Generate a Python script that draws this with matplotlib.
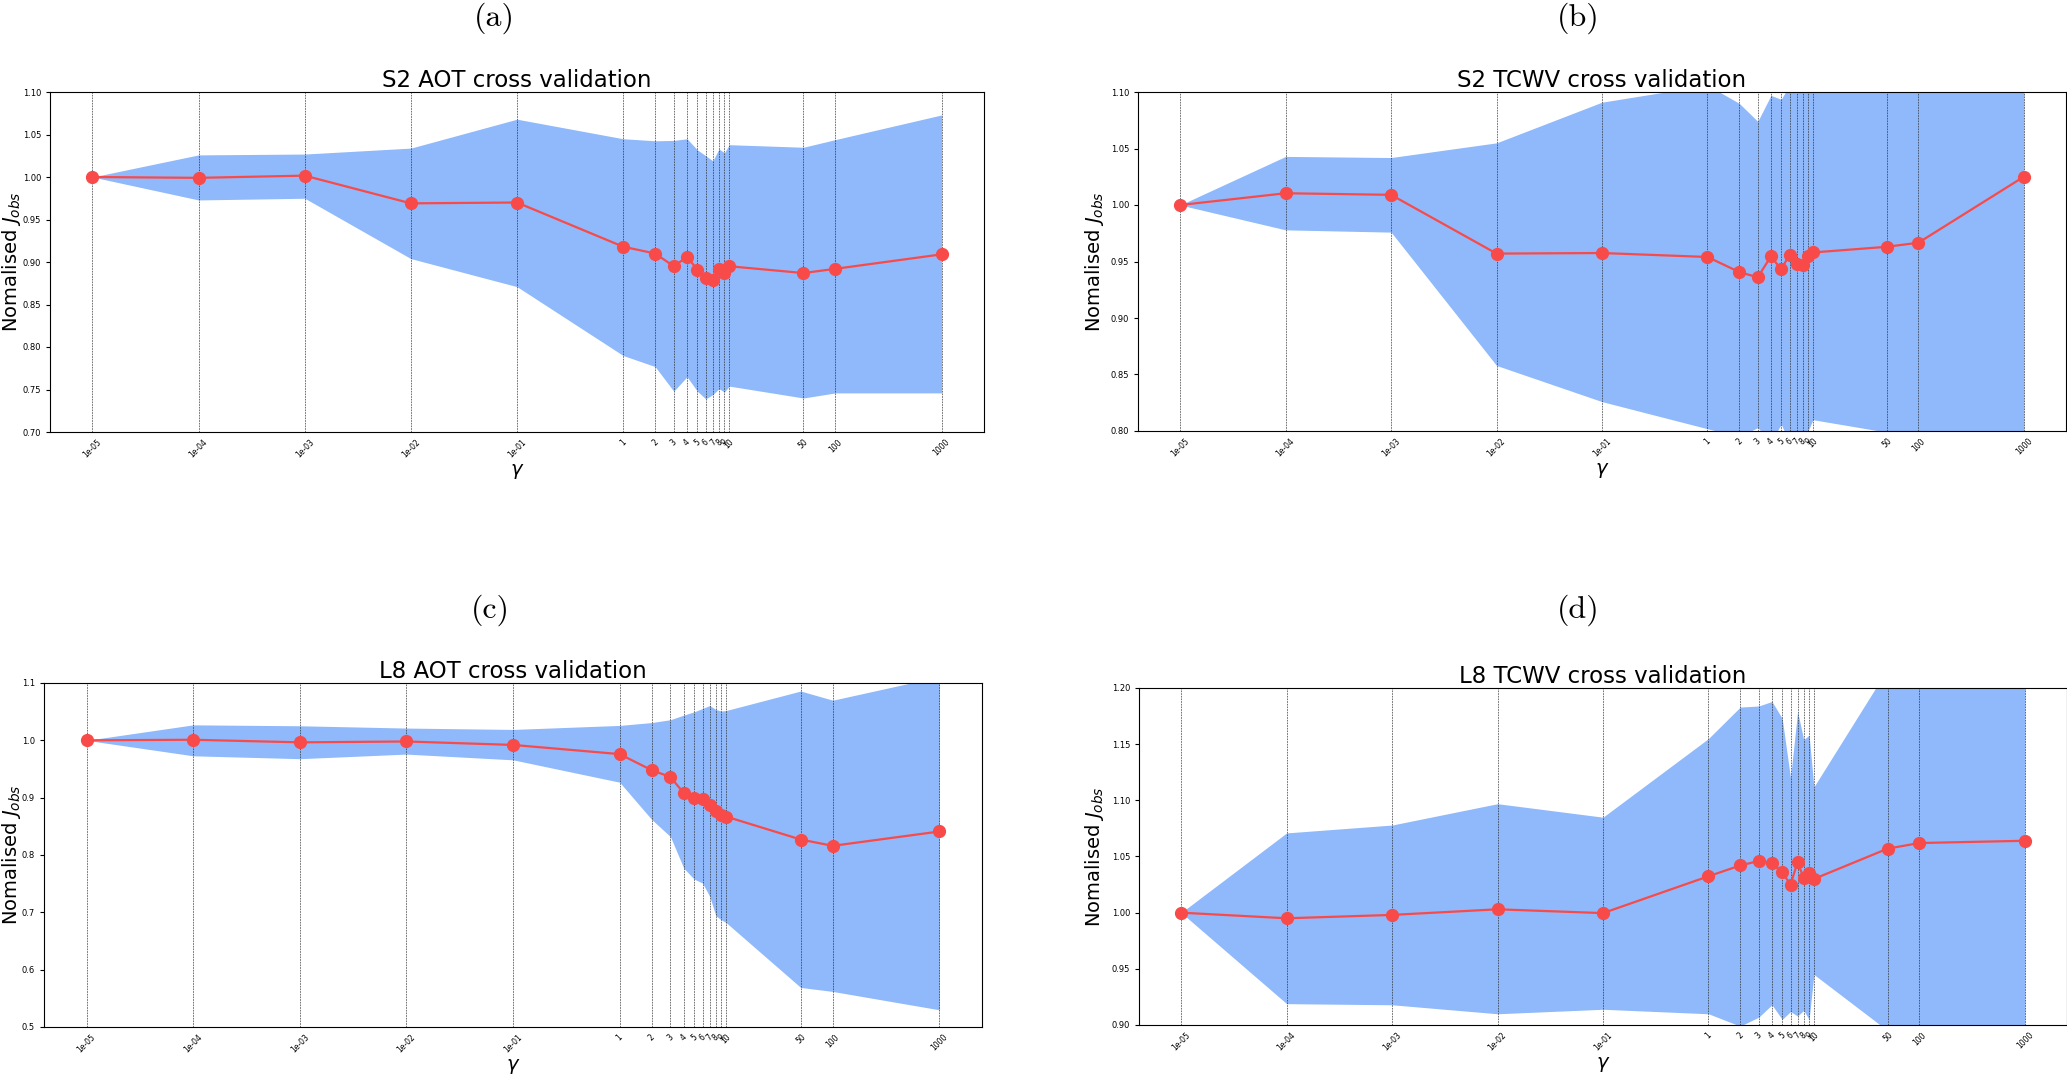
import numpy as np
import matplotlib
matplotlib.use("Agg")
import matplotlib.pyplot as plt

# regularisation weights and their tick labels
gamma = [1e-5, 1e-4, 1e-3, 1e-2, 1e-1, 1, 2, 3, 4, 5, 6, 7, 8, 9, 10, 50, 100, 1000]
gamma_labels = ['1e-05', '1e-04', '1e-03', '1e-02', '1e-01', '1', '2', '3', '4',
                '5', '6', '7', '8', '9', '10', '50', '100', '1000']

# S2 AOT
s2_aot_mean = [1.000, 0.999, 1.0016, 0.969, 0.970, 0.918, 0.910, 0.895, 0.906,
               0.891, 0.881, 0.879, 0.892, 0.887, 0.895, 0.887, 0.892, 0.909]
s2_aot_upper = [1.0, 1.026, 1.027, 1.034, 1.068, 1.045, 1.0426, 1.043, 1.045,
                1.032, 1.025, 1.019, 1.033, 1.0285, 1.038, 1.035, 1.044, 1.073]
s2_aot_lower = [1.0, 0.973, 0.975, 0.904, 0.871, 0.790, 0.777, 0.748, 0.765,
                0.748, 0.739, 0.744, 0.751, 0.747, 0.754, 0.740, 0.746, 0.746]

# S2 TCWV
s2_tcwv_mean = [1.000, 1.0104, 1.009, 0.957, 0.9575, 0.954, 0.9407, 0.936, 0.9546,
                0.943, 0.956, 0.9475, 0.9466, 0.955, 0.958, 0.963, 0.9666, 1.025]
s2_tcwv_upper = [1.0, 1.043, 1.042, 1.055, 1.091, 1.106, 1.090, 1.074, 1.097,
                 1.0935, 1.106, 1.099, 1.12, 1.13, 1.14, 1.18, 1.2, 1.3]
s2_tcwv_lower = [1.0, 0.978, 0.976, 0.858, 0.826, 0.802, 0.795, 0.803, 0.79,
                 0.806, 0.79, 0.795, 0.79, 0.80, 0.81, 0.799, 0.795, 0.78]

# L8 AOT
l8_aot_mean = [1.000, 1.001, 0.9965, 0.998, 0.992, 0.976, 0.948, 0.936, 0.908,
               0.899, 0.898, 0.887, 0.876, 0.869, 0.867, 0.827, 0.816, 0.841]
l8_aot_upper = [1.0, 1.027, 1.0254, 1.0214, 1.019, 1.026, 1.031, 1.036, 1.044,
                1.0497, 1.0555, 1.0607, 1.0538, 1.051, 1.052, 1.086, 1.070, 1.111]
l8_aot_lower = [1.0, 0.973, 0.968, 0.976, 0.966, 0.927, 0.862, 0.832, 0.777,
                0.758, 0.751, 0.728, 0.694, 0.687, 0.682, 0.569, 0.562, 0.530]

# L8 TCWV
l8_tcwv_mean = [1.000, 0.995, 0.998, 1.003, 0.9996, 1.0324, 1.042, 1.046, 1.044,
                1.036, 1.025, 1.045, 1.031, 1.035, 1.030, 1.057, 1.062, 1.064]
l8_tcwv_upper = [1.0, 1.071, 1.078, 1.097, 1.085, 1.155, 1.183, 1.184, 1.188,
                 1.173, 1.12, 1.179, 1.154, 1.158, 1.112, 1.217, 1.25, 1.3]
l8_tcwv_lower = [1.0, 0.919, 0.918, 0.91, 0.914, 0.91, 0.899, 0.907, 0.918,
                 0.905, 0.912, 0.908, 0.913, 0.905, 0.945, 0.895, 0.88, 0.86]

W, H = 2067, 1081
fig = plt.figure(figsize=(W / 100, H / 100), dpi=100)

FILL = '#8fb9fa'
RED = '#f94a4a'


def px_axes(left, top, width, height):
    return fig.add_axes([left / W, 1 - (top + height) / H, width / W, height / H])


def panel(ax, mean, upper, lower, title, ylim, letter, letter_xy, ylabel_x):
    ax.fill_between(gamma, lower, upper, color=FILL, linewidth=0, zorder=1)
    for g in gamma:
        ax.axvline(g, color='#222222', ls=(0, (2, 1.2)), lw=0.6, alpha=0.75, zorder=2)
    ax.plot(gamma, mean, '-o', color=RED, lw=1.6, ms=8.5, zorder=3)
    ax.set_xscale('log')
    ax.set_xticks(gamma)
    ax.set_xticklabels(gamma_labels, rotation=45, fontsize=5.5)
    ax.minorticks_off()
    ax.set_ylim(*ylim)
    ax.tick_params(axis='y', labelsize=6, length=3)
    ax.tick_params(axis='x', length=0, pad=4)
    ax.set_title(title, fontsize=16.5, pad=3)
    ax.set_ylabel('Nomalised $J_{obs}$', fontsize=14)
    # ylabel anchor is its right edge (rotated text, va='bottom')
    bb = ax.get_position()
    ax.yaxis.set_label_coords((ylabel_x / W - bb.x0) / bb.width, 0.5)
    ax.set_xlabel(r'$\gamma$', fontsize=14, labelpad=2)
    fig.text(letter_xy[0] / W, 1 - letter_xy[1] / H, letter, fontsize=23,
             family='cmr10', ha='center', va='center')


ax_a = px_axes(50, 92, 934, 340)
panel(ax_a, s2_aot_mean, s2_aot_upper, s2_aot_lower, 'S2 AOT cross validation',
      (0.70, 1.10), '(a)', (494, 18), 23)

ax_b = px_axes(1138, 92, 928, 339)
panel(ax_b, s2_tcwv_mean, s2_tcwv_upper, s2_tcwv_lower, 'S2 TCWV cross validation',
      (0.80, 1.10), '(b)', (1578, 18), 1106)

ax_c = px_axes(44, 683, 938, 344)
panel(ax_c, l8_aot_mean, l8_aot_upper, l8_aot_lower, 'L8 AOT cross validation',
      (0.5, 1.1), '(c)', (490, 610), 23)

ax_d = px_axes(1139, 688, 928, 337)
panel(ax_d, l8_tcwv_mean, l8_tcwv_upper, l8_tcwv_lower, 'L8 TCWV cross validation',
      (0.90, 1.20), '(d)', (1578, 610), 1106)

fig.savefig('out.png', dpi=100)
